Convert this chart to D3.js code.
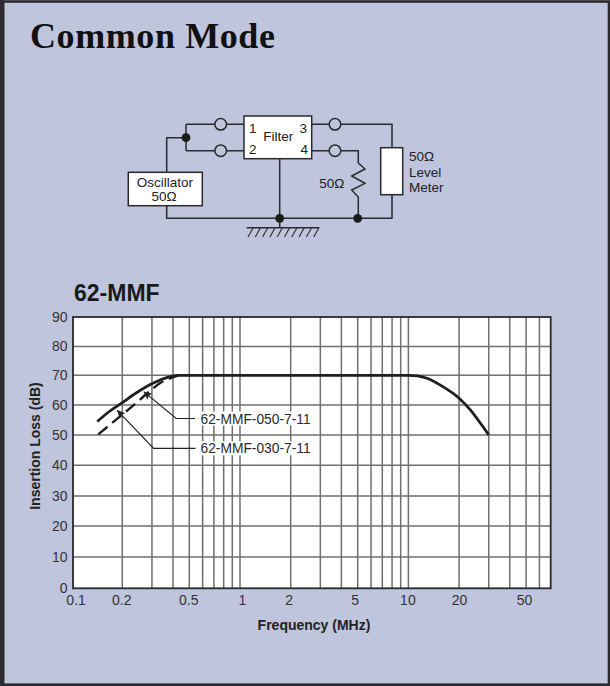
<!DOCTYPE html>
<html><head><meta charset="utf-8">
<script src="https://cdn.jsdelivr.net/npm/d3@7"></script>
<style>html,body{margin:0;padding:0;background:#bec5dc}svg{display:block}</style>
</head><body><div id="chart"></div>
<script>
const title = "Common Mode";
const chartTitle = "62-MMF";
const xTitle = "Frequency (MHz)";
const yTitle = "Insertion Loss (dB)";
const xGrid = [0.2,0.3,0.4,0.5,0.6,0.7,0.8,0.9,1,2,3,4,5,6,7,8,9,10,20,30,40,50,60];
const xTickLabels = [0.1,0.2,0.5,1,2,5,10,20,50];
const yTicks = [0,10,20,30,40,50,60,70,80,90];
const solidF = [0.142,0.169,0.198,0.244,0.306,0.367,0.43,1,10,11.3,12.9,16.2,20,23.4,26.8,30];
const solidV = [54.5,58,60.6,64.2,67.4,69.2,70,70,70,69.8,69,66,62.3,58.3,53.9,50];
const dashF = [0.144,0.194,0.233,0.286,0.336,0.385,0.43];
const dashV = [50.2,56.2,59.9,64.3,67.4,69,70];
const labels050 = "62-MMF-050-7-11";
const labels030 = "62-MMF-030-7-11";

const W=610,H=686;
const ink="#2a2a2e", grid="#6f6f70", bg="#bec5dc";
const svg=d3.select("#chart").append("svg").attr("width",W).attr("height",H);
const sans="'Liberation Sans',Arial,sans-serif";
svg.append("rect").attr("width",W).attr("height",H).attr("fill",bg);
svg.append("rect").attr("x",2.2).attr("y",1.5).attr("width",W-3.2).attr("height",H-2.8).attr("fill","none").attr("stroke","#2c2b30").attr("stroke-width",2.6);
svg.append("rect").attr("x",0).attr("y",0).attr("width",4.5).attr("height",H).attr("fill","#2c2b30");
svg.append("text").attr("x",30).attr("y",48).attr("font-family","'Liberation Serif',serif").attr("font-weight",700).attr("font-size",36).attr("letter-spacing",0.6).attr("fill","#111").text(title);

// scales
const x=d3.scaleLog().domain([0.1,70]).range([71.6,550.7]);
const y=d3.scaleLinear().domain(yTicks).range([588.3,557,526,496,465.3,435,405,375.3,346.5,317]);
const L=73,R=550.7,T=317,B=588.3;
svg.append("text").attr("x",74).attr("y",301).attr("font-family",sans).attr("font-weight",700).attr("font-size",23).attr("fill","#1a1a1a").text(chartTitle);
svg.append("rect").attr("x",L).attr("y",T).attr("width",R-L).attr("height",B-T).attr("fill","#fff");
const g=svg.append("g");
g.selectAll("line.v").data(xGrid).join("line").attr("class","v").attr("x1",d=>x(d)).attr("x2",d=>x(d)).attr("y1",T).attr("y2",B).attr("stroke",grid).attr("stroke-width",1.5);
g.selectAll("line.h").data(yTicks.slice(1,-1)).join("line").attr("class","h").attr("x1",L).attr("x2",R).attr("y1",d=>y(d)).attr("y2",d=>y(d)).attr("stroke",grid).attr("stroke-width",1.4);
// label masks
[labels050,labels030].forEach((t,i)=>{
  const yc=y(i?45.6:55.5);
  g.append("rect").attr("x",197).attr("y",yc-7).attr("width",116).attr("height",14).attr("fill","#fff");
  g.append("text").attr("x",200.5).attr("y",yc+5).attr("font-family",sans).attr("font-size",13.8).attr("fill","#2a2a2a").text(t);
});
// frame
svg.append("rect").attr("x",L).attr("y",T).attr("width",R-L).attr("height",B-T).attr("fill","none").attr("stroke",ink).attr("stroke-width",1.8);
// axes labels
const xNudge = new Map([[0.1,4],[0.2,-1],[0.5,-1],[1,2],[2,-2],[5,-3],[10,-1],[50,-2]]);
const xAxis=d3.axisBottom(x).tickValues(xTickLabels).tickFormat(d=>d).tickSize(0).tickPadding(7);
const ax=svg.append("g").attr("transform",`translate(0,${B})`).call(xAxis);
ax.select(".domain").remove();
ax.selectAll("text").attr("font-family",sans).attr("font-size",14).attr("fill","#333").attr("dx",d=>xNudge.get(d)||0);
const yAxis=d3.axisLeft(y).tickValues(yTicks).tickSize(0).tickPadding(5.5);
const ay=svg.append("g").attr("transform",`translate(${L},0)`).call(yAxis);
ay.select(".domain").remove();
ay.selectAll("text").attr("font-family",sans).attr("font-size",14).attr("fill","#333");
svg.append("text").attr("x",314).attr("y",630).attr("text-anchor","middle").attr("font-family",sans).attr("font-weight",700).attr("font-size",14).attr("fill","#222").text(xTitle);
svg.append("text").attr("transform","translate(40,446) rotate(-90)").attr("text-anchor","middle").attr("font-family",sans).attr("font-weight",700).attr("font-size",14).attr("fill","#222").text(yTitle);

// curves
const line=d3.line().x(d=>x(d[0])).y(d=>y(d[1])).curve(d3.curveMonotoneX);
g.append("path").attr("d",line(d3.zip(dashF,dashV))).attr("fill","none").attr("stroke","#1e1e20").attr("stroke-width",2.4).attr("stroke-dasharray","12 6");
g.append("path").attr("d",line(d3.zip(solidF,solidV))).attr("fill","none").attr("stroke","#1e1e20").attr("stroke-width",2.8);

// leaders with arrowheads
const leaders=[
 {f:[0.268,0.418,0.54],v:[64.5,55.5,55.5]},
 {f:[0.186,0.307,0.544],v:[58.3,45.6,45.6]}
];
leaders.forEach(l=>{
  const p=d3.zip(l.f,l.v).map(d=>[x(d[0]),y(d[1])]);
  g.append("path").attr("d",d3.line()(p)).attr("fill","none").attr("stroke","#222").attr("stroke-width",1.2);
  const a=Math.atan2(p[1][1]-p[0][1],p[1][0]-p[0][0]);
  const hd=(r,o)=>[p[0][0]+r*Math.cos(a+o),p[0][1]+r*Math.sin(a+o)];
  g.append("path").attr("d",d3.line()([p[0],hd(9,0.45),hd(6.5,0),hd(9,-0.45),p[0]])).attr("fill","#222");
});

// circuit schematic
const c=svg.append("g").attr("fill","none").attr("stroke","#2a2a2c").attr("stroke-width",1.5);
const wires=["M186,124.3V150.7","M186,124.3H244","M186,150.7H244","M186,137.7H166.7V172.3","M166.7,205.7V218.3H392V194.7","M392,147.7V124.3H311.7","M311.7,150.7H358.3V163L365,169L351.7,176L365,183.3L351.7,190L358.3,197V218.3","M279.7,158.7V227.5","M246.7,227.7H319.3"];
wires.forEach(d=>c.append("path").attr("d",d));
d3.range(10).forEach(i=>c.append("line").attr("x1",253+i*7.3).attr("y1",228).attr("x2",248+i*7.3).attr("y2",237).attr("stroke-width",1.1));
[[220.7,124.3],[220.7,150.7],[335,124.3],[335,150.7]].forEach(p=>c.append("circle").attr("cx",p[0]).attr("cy",p[1]).attr("r",5.8).attr("fill",bg));
[[186,137.7],[279.7,218.3],[357.7,218.3]].forEach(p=>c.append("circle").attr("cx",p[0]).attr("cy",p[1]).attr("r",4.4).attr("fill","#1a1a1a").attr("stroke","none"));
[[244,116,67.7,42.7],[128.3,172.3,74,33.4],[380.7,147.7,22,47]].forEach(r=>c.append("rect").attr("x",r[0]).attr("y",r[1]).attr("width",r[2]).attr("height",r[3]).attr("fill","#fff"));
[["1",252.7,128.3,"middle"],["2",252.7,149.5,"middle"],["3",303.3,128.3,"middle"],["4",304.3,149.5,"middle"],["Filter",278.3,136,"middle"],["Oscillator",165,182.2,"middle"],["50Ω",164,196.3,"middle"],["50Ω",331.7,183.5,"middle"],["50Ω",409,156,"start"],["Level",409,171.7,"start"],["Meter",409,187.3,"start"]].forEach(t=>
 svg.append("text").attr("x",t[1]).attr("y",t[2]).attr("dy","0.36em").attr("text-anchor",t[3]).attr("font-family",sans).attr("font-size",13.5).attr("fill","#222").text(t[0]));
</script></body></html>
